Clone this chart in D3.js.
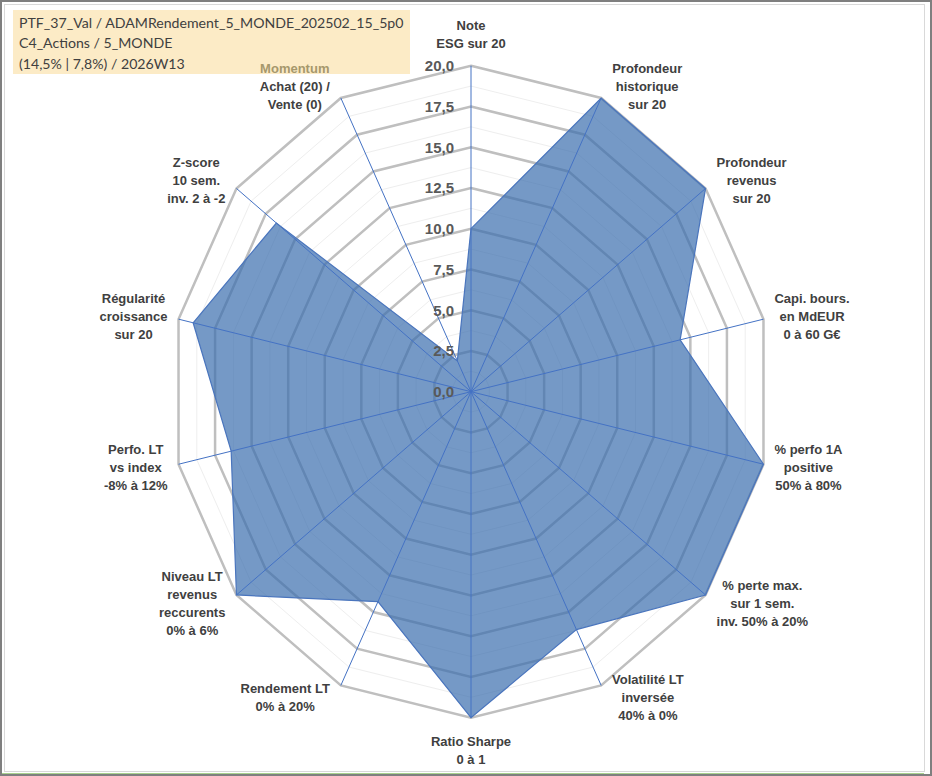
<!DOCTYPE html>
<html>
<head>
<meta charset="utf-8">
<script src="https://cdn.jsdelivr.net/npm/d3@7"></script>
<style>
  html, body { margin: 0; padding: 0; background: #fff; }
  svg { display: block; }
</style>
</head>
<body>
<div id="chart"></div>
<script>
// Chart data
const categories = [
    ["Note", "ESG sur 20"],
    ["Profondeur", "historique", "sur 20"],
    ["Profondeur", "revenus", "sur 20"],
    ["Capi. bours.", "en MdEUR", "0 à 60 G€"],
    ["% perfo 1A", "positive", "50% à 80%"],
    ["% perte max.", "sur 1 sem.", "inv. 50% à 20%"],
    ["Volatilité LT", "inversée", "40% à 0%"],
    ["Ratio Sharpe", "0 à 1"],
    ["Rendement LT", "0% à 20%"],
    ["Niveau LT", "revenus", "reccurents", "0% à 6%"],
    ["Perfo. LT", "vs index", "-8% à 12%"],
    ["Régularité", "croissance", "sur 20"],
    ["Z-score", "10 sem.", "inv. 2 à -2"],
    ["Momentum", "Achat (20) /", "Vente (0)"]
];
const values = [10, 20, 20, 14.3, 20, 20, 16.2, 20, 14.3, 20, 16.4, 19, 16.6, 2.1];
const ticks = [0, 2.5, 5, 7.5, 10, 12.5, 15, 17.5, 20];
const tickLabels = ["0,0", "2,5", "5,0", "7,5", "10,0", "12,5", "15,0", "17,5", "20,0"];
const minorTicks = [1.25, 3.75, 6.25, 8.75, 11.25, 13.75, 16.25, 18.75];
const titleLines = [
    "PTF_37_Val / ADAMRendement_5_MONDE_202502_15_5p0",
    "C4_Actions / 5_MONDE",
    "(14,5% | 7,8%) / 2026W13"
];

// Layout
const width = 932, height = 776;
const cx = 471, cy = 391.7;
const rx = 300, ry = 326;
const n = categories.length;

const svg = d3.select("#chart")
    .append("svg")
    .attr("width", width)
    .attr("height", height);

const xR = d3.scaleLinear().domain([0, 20]).range([0, rx]);
const yR = d3.scaleLinear().domain([0, 20]).range([0, ry]);
const angle = i => i * 2 * Math.PI / n;

function pt(i, v) {
    const a = angle(i);
    return [cx + xR(v) * Math.sin(a), cy - yR(v) * Math.cos(a)];
}
const ring = v => d3.range(n).map(i => pt(i, v));
const line = d3.line().curve(d3.curveLinearClosed);

// Frame
svg.append("rect")
    .attr("x", 1).attr("y", 1)
    .attr("width", width - 2).attr("height", height - 2)
    .attr("fill", "none").attr("stroke", "#7f7f7f").attr("stroke-width", 2);
svg.append("line")
    .attr("x1", 2).attr("x2", 924).attr("y1", 773.5).attr("y2", 773.5)
    .attr("stroke", "#a9d18e").attr("stroke-width", 1);
svg.append("rect")
    .attr("x", 4.5).attr("y", 4.5)
    .attr("width", 920).attr("height", 767)
    .attr("fill", "none").attr("stroke", "#d9d9d9").attr("stroke-width", 1);

// Title box
svg.append("rect")
    .attr("x", 13).attr("y", 10)
    .attr("width", 397).attr("height", 64)
    .attr("fill", "#fcebc6");

const title = svg.append("g")
    .attr("font-family", "Lato, 'Open Sans', sans-serif")
    .attr("fill", "#404040");
const titleText = title.selectAll("text")
    .data(titleLines)
    .enter().append("text")
    .attr("x", 19)
    .attr("y", (d, i) => 22 + i * 20.5)
    .attr("dominant-baseline", "central")
    .attr("font-size", 16)
    .text(d => d);
// fit the first line to the width it has in the picture
const natural = titleText.node().getComputedTextLength();
titleText.attr("font-size", 16 * 385 / natural);

// Grid
const grid = svg.append("g").attr("fill", "none");
grid.selectAll(".minor")
    .data(minorTicks)
    .enter().append("path")
    .attr("class", "minor")
    .attr("d", d => line(ring(d)))
    .attr("stroke", "#eeeeee")
    .attr("stroke-width", 1);
grid.selectAll(".major")
    .data(ticks.filter(t => t > 0))
    .enter().append("path")
    .attr("class", "major")
    .attr("d", d => line(ring(d)))
    .attr("stroke", "#bfbfbf")
    .attr("stroke-width", 2.5);

// Series fill
const seriesPts = values.map((v, i) => pt(i, v));
svg.append("path")
    .attr("d", line(seriesPts))
    .attr("fill", "rgb(58,110,174)")
    .attr("fill-opacity", 0.7)
    .attr("stroke", "none");

// Spokes
svg.append("g").selectAll("line")
    .data(d3.range(n))
    .enter().append("line")
    .attr("x1", cx).attr("y1", cy)
    .attr("x2", i => pt(i, 20)[0])
    .attr("y2", i => pt(i, 20)[1])
    .attr("stroke", "#4472c4")
    .attr("stroke-width", 1);

// Series outline
svg.append("path")
    .attr("d", line(seriesPts))
    .attr("fill", "none")
    .attr("stroke", "#4a75bd")
    .attr("stroke-width", 1.2);

// Tick labels
svg.append("g").selectAll("text")
    .data(ticks)
    .enter().append("text")
    .attr("x", cx - 17)
    .attr("y", d => cy - yR(d))
    .attr("text-anchor", "end")
    .attr("dominant-baseline", "central")
    .attr("font-family", "'Liberation Sans', Arial, sans-serif")
    .attr("font-weight", "bold")
    .attr("font-size", 15)
    .attr("fill", "#595959")
    .text((d, i) => tickLabels[i]);

// Category labels
const lineH = 18;
const labels = svg.append("g")
    .attr("font-family", "'Liberation Sans', Arial, sans-serif")
    .attr("font-weight", "bold")
    .attr("font-size", 13)
    .attr("fill", "#404040");

categories.forEach((lines, i) => {
    const a = angle(i);
    const s = Math.sin(a), c = Math.cos(a);
    const [px, py] = pt(i, 20);
    const t = labels.append("text")
        .attr("text-anchor", "middle")
        .attr("dominant-baseline", "central");
    const spans = lines.map((l, j) => t.append("tspan")
        .attr("fill", i === n - 1 && j === 0 ? "#a6986c" : null)
        .text(l));
    const w = d3.max(spans, sp => sp.node().getComputedTextLength());
    const h = lines.length * lineH;
    let ox, oy;
    if (Math.abs(s) < 0.1) {
        ox = 0;
        oy = -c * (h / 2 + 14);
    } else {
        ox = Math.sign(s) * (w / 2 + 11);
        oy = -c * 13;
    }
    const x0 = px + ox, y0 = py + oy - (h - lineH) / 2;
    spans.forEach((sp, j) => sp.attr("x", x0).attr("y", y0 + j * lineH));
});
</script>
</body>
</html>
